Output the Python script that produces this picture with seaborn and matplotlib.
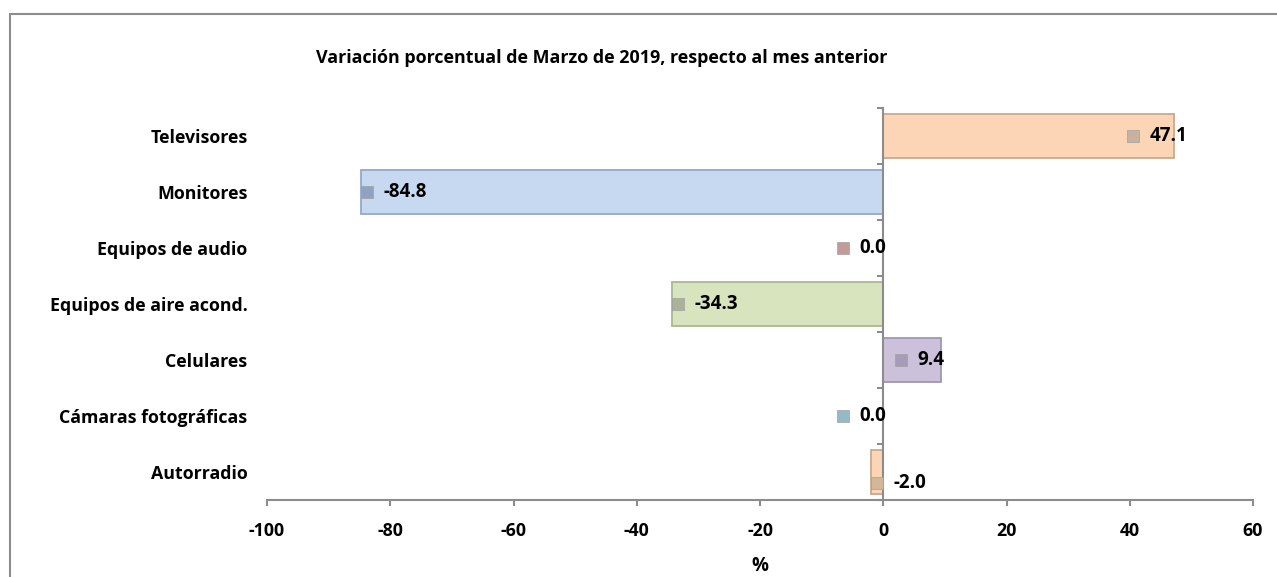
import seaborn as sns
import matplotlib.pyplot as plt
import pandas as pd

# data
categories = ["Televisores", "Monitores", "Equipos de audio", "Equipos de aire acond.",
              "Celulares", "Cámaras fotográficas", "Autorradio"]
values = [47.1, -84.8, 0.0, -34.3, 9.4, 0.0, -2.0]
x_ticks = [-100, -80, -60, -40, -20, 0, 20, 40, 60]

bar_colors = ["#FBD5B5", "#C6D9F1", "#E6B9B8", "#D7E4BD", "#CCC1DA", "#B7DDE8", "#FBD5B5"]
edge_colors = ["#C9A98C", "#93A9C7", "#B98E8D", "#A9B892", "#A295B3", "#8DB3BF", "#C9A98C"]
marker_colors = ["#C7B29F", "#8FA3C1", "#C49A99", "#A9B396", "#A79CB8", "#93BAC6", "#D2B79A"]

sns.set_style("white")
plt.rcParams["font.family"] = ["Open Sans", "DejaVu Sans"]
plt.rcParams["font.weight"] = "bold"
plt.rcParams["text.color"] = "black"
plt.rcParams["xtick.labelcolor"] = "black"
plt.rcParams["ytick.labelcolor"] = "black"
plt.rcParams["axes.labelcolor"] = "black"

df = pd.DataFrame({"cat": categories, "val": values})

fig = plt.figure(figsize=(12.77, 5.77), dpi=100)
ax = fig.add_axes([267 / 1277, 1 - 500 / 577, 986 / 1277, 392 / 577])

sns.barplot(data=df, x="val", y="cat", hue="cat", palette=bar_colors, legend=False,
            orient="h", width=0.8, linewidth=1.3, saturation=1, ax=ax)
for patch, ec in zip(ax.patches, edge_colors):
    patch.set_edgecolor(ec)

ax.set_xlim(-100, 60)
ax.set_ylim(6.5, -0.5)

# zero axis with boundary ticks
grey = "#8C8C8C"
for s in ["top", "right"]:
    ax.spines[s].set_visible(False)
ax.spines["left"].set_position(("data", 0))
ax.spines["left"].set_color(grey)
ax.spines["left"].set_linewidth(1.5)
ax.spines["bottom"].set_color(grey)
ax.spines["bottom"].set_linewidth(1.5)
ax.set_yticks([i - 0.5 for i in range(len(categories) + 1)])
ax.set_yticklabels([])
ax.tick_params(axis="y", left=True, length=4, width=1.5, color=grey, direction="out")

ax.set_xticks(x_ticks)
ax.set_xticklabels([str(t) for t in x_ticks])
ax.tick_params(axis="x", bottom=True, length=4.5, width=1.5, color=grey, pad=11, labelsize=12.8)
ax.set_xlabel("%", fontsize=13.5, fontweight="bold", labelpad=12)
ax.set_ylabel("")

# category names on the left
sec = ax.secondary_yaxis("left")
sec.set_yticks(range(len(categories)))
sec.set_yticklabels(categories)
sec.tick_params(length=0, pad=14, labelsize=12.8)
sec.spines["left"].set_visible(False)

# data labels with legend keys
for i, v in enumerate(values):
    mx = v + 1 if v < 0 else v - 6.5
    yy = i + 0.2 if i == len(values) - 1 else i
    ax.scatter(mx, yy, marker="s", s=70, color=marker_colors[i], edgecolor="#A0A0A0",
               linewidth=0.5, zorder=5)
    ax.text(mx + 2.7, yy, f"{v:.1f}", ha="left", va="center", fontsize=13.5,
            fontweight="bold", color="black", zorder=6)

fig.text(316 / 1277, 1 - 58 / 577, "Variación porcentual de Marzo de 2019, respecto al mes anterior",
         ha="left", va="center", fontsize=12.9, fontweight="bold")

# chart area border
fig.patches.append(plt.Rectangle((10 / 1277, -0.2), 1.2, 1.2 - 14 / 577, fill=False,
                                 edgecolor=grey, linewidth=1.5, transform=fig.transFigure,
                                 figure=fig, clip_on=False))

fig.savefig("out.png", dpi=100)
